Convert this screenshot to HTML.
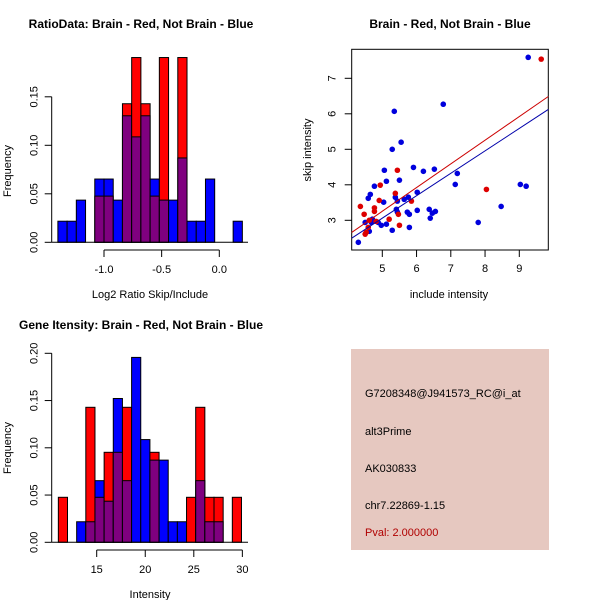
<!DOCTYPE html>
<html><head><meta charset="utf-8"><style>
body{margin:0;background:#fff}
svg{display:block;font-family:"Liberation Sans",sans-serif}
</style></head><body>
<svg id="c" width="600" height="600" xmlns="http://www.w3.org/2000/svg">
<rect width="600" height="600" fill="#fff"/>
<g id="tl"></g>
<g id="tr"></g>
<g id="bl"></g>
<g id="br">
<rect x="351" y="349" width="198" height="201" fill="#e6c8c0"/>
<text x="365" y="397" font-size="11">G7208348@J941573_RC@i_at</text>
<text x="365" y="435" font-size="11">alt3Prime</text>
<text x="365" y="472" font-size="11">AK030833</text>
<text x="365" y="509" font-size="11">chr7.22869-1.15</text>
<text x="365" y="536" font-size="11" fill="#b00000">Pval: 2.000000</text>
</g>
</svg>
<script>
// ---- data ----
const ratioBinStart = -1.4;
const ratioBinWidth = 0.08;
const ratioBlueCounts = [1,1,2,0,3,3,2,6,5,6,3,2,2,4,1,1,3,0,0,1];
const ratioRedCounts  = [0,0,0,0,1,1,0,3,4,3,1,4,0,4,0,0,0,0,0,0];
const ratioXTicks = [-1.0,-0.5,0.0];
const ratioXTickLabels = ["-1.0","-0.5","0.0"];
const freqTicksTop = [0,0.05,0.10,0.15];
const freqTickLabelsTop = ["0.00","0.05","0.10","0.15"];

const intBinStart = 11.05;
const intBinWidth = 0.943;
const intBlueCounts = [0,0,1,1,3,2,7,3,9,5,4,4,1,1,0,3,1,1,0,0];
const intRedCounts  = [1,0,0,3,1,2,2,3,0,0,2,0,0,0,1,3,1,1,0,1];
const intXTicks = [15,20,25,30];
const freqTicksBot = [0,0.05,0.10,0.15,0.20];
const freqTickLabelsBot = ["0.00","0.05","0.10","0.15","0.20"];

const blueX = [4.30,4.50,4.59,4.65,4.77,5.04,5.06,5.12,5.29,5.35,5.55,5.50,5.38,5.44,5.41,5.44,5.29,5.12,4.97,4.88,4.68,4.62,4.71,5.64,5.76,5.73,5.79,5.79,5.91,6.02,6.02,6.20,6.52,6.78,6.37,6.40,6.46,6.55,7.13,7.19,7.80,8.47,9.03,9.20,9.26];
const blueY = [2.38,2.94,3.62,3.73,3.96,3.51,4.41,4.10,5.00,6.07,5.20,4.13,3.65,3.54,3.31,3.23,2.72,2.89,2.86,2.94,2.94,2.69,3.03,3.59,3.65,3.23,3.17,2.80,4.49,3.79,3.28,4.38,4.44,6.27,3.31,3.06,3.20,3.25,4.01,4.32,2.94,3.39,4.01,3.96,7.59];
const redX = [4.36,4.47,4.50,4.53,4.59,4.62,4.77,4.77,4.82,4.91,4.94,5.20,5.38,5.44,5.47,5.50,5.85,8.04,9.64];
const redY = [3.39,3.17,2.61,2.66,2.80,3.00,3.35,3.25,2.97,3.56,3.99,3.03,3.76,4.41,3.17,2.86,3.54,3.87,7.54];
const redFit = [-0.08,0.667];   // intercept, slope
const blueFit = [-0.10,0.632];
const scatXTicks = [5,6,7,8,9];
const scatYTicks = [3,4,5,6,7];

const NS="http://www.w3.org/2000/svg";
function mk(parent,tag,attrs){const e=document.createElementNS(NS,tag);for(const k in attrs)e.setAttribute(k,attrs[k]);parent.appendChild(e);return e;}

function histPanel(g,o){
  const xs=v=>o.x0px+(v-o.x0)*o.xk;
  const ys=v=>o.y0px-v*o.yk;
  const nb=o.blue.reduce((a,b)=>a+b,0), nr=o.red.reduce((a,b)=>a+b,0);
  for(let i=0;i<o.blue.length;i++){
    const l=xs(o.start+i*o.w), r=xs(o.start+(i+1)*o.w);
    const fb=o.blue[i]/nb, fr=o.red[i]/nr;
    const hi=Math.max(fb,fr), lo=Math.min(fb,fr);
    if(hi>0){
      const b=mk(g,'rect',{x:l,y:ys(hi),width:r-l,height:ys(0)-ys(hi),fill:fb>=fr?'#0000ff':'#ff0000',stroke:'#000','stroke-width':1});
      
      
    }
    if(lo>0){
      const p=mk(g,'rect',{x:l,y:ys(lo),width:r-l,height:ys(0)-ys(lo),fill:'#7f007f',stroke:'#000','stroke-width':1});
      
      
    }
  }
  mk(g,'line',{x1:o.axL,x2:o.axR,y1:ys(0),y2:ys(0),stroke:'#000'});
  const ya=mk(g,'g',{});
  
  
  mk(ya,'line',{x1:o.axL,x2:o.axL,y1:ys(o.yt[0]),y2:ys(o.yt[o.yt.length-1]),stroke:'#000'});
  o.yt.forEach((t,i)=>{
    mk(ya,'line',{x1:o.axL-7,x2:o.axL,y1:ys(t),y2:ys(t),stroke:'#000'});
    const tx=mk(ya,'text',{x:0,y:0,'font-size':11,'text-anchor':'middle',transform:`translate(${o.axL-14},${ys(t)}) rotate(-90)`});
    tx.textContent=o.ytl[i];
    
    
  });
  const xa=mk(g,'g',{});
  
  
  const xt=o.xt;
  mk(xa,'line',{x1:xs(xt[0]),x2:xs(xt[xt.length-1]),y1:o.xAxY,y2:o.xAxY,stroke:'#000'});
  xt.forEach((t,i)=>{
    mk(xa,'line',{x1:xs(t),x2:xs(t),y1:o.xAxY,y2:o.xAxY+7,stroke:'#000'});
    const tx=mk(xa,'text',{x:xs(t),y:o.xAxY+23,'font-size':11,'text-anchor':'middle'});
    tx.textContent=o.xtl[i];
    
    
  });
  const yl=mk(g,'text',{x:0,y:0,'font-size':11,'text-anchor':'middle',transform:`translate(11,${o.ylY}) rotate(-90)`});
  yl.textContent='Frequency';
  
  
  const xl=mk(g,'text',{x:o.xlX,y:o.xlY,'font-size':11,'text-anchor':'middle'});
  xl.textContent=o.xlabel;
  
  
  const ti=mk(g,'text',{x:o.tX,y:o.tY,'font-size':12,'font-weight':'bold','text-anchor':'middle'});
  ti.textContent=o.title;
  
  
}

histPanel(document.getElementById('tl'),{x0:-1,x0px:104,xk:115.3,y0px:242.3,yk:970,start:ratioBinStart,w:ratioBinWidth,
  blue:ratioBlueCounts,red:ratioRedCounts,axL:51.7,axR:248,xAxY:250,xt:ratioXTicks,xtl:ratioXTickLabels,yt:freqTicksTop,ytl:freqTickLabelsTop,
  ylY:171,xlX:150,xlY:298,xlabel:'Log2 Ratio Skip/Include',tX:141,tY:28,title:'RatioData: Brain - Red, Not Brain - Blue'});
histPanel(document.getElementById('bl'),{x0:15,x0px:96.7,xk:9.71,y0px:542.3,yk:945,start:intBinStart,w:intBinWidth,
  blue:intBlueCounts,red:intRedCounts,axL:51.7,axR:248,xAxY:550,xt:intXTicks,xtl:intXTicks.map(String),yt:freqTicksBot,ytl:freqTickLabelsBot,
  ylY:448,xlX:150,xlY:598,xlabel:'Intensity',tX:141,tY:329,title:'Gene Itensity: Brain - Red, Not Brain - Blue'});

(function(){
  const g=document.getElementById('tr');
  const L=351.7,R=548.3,T=49.3,B=250;
  const xs=v=>382.3+(v-5)*34.25, ys=v=>220.3-(v-3)*35.5;
  const xmin=(L-382.3)/34.25+5, xmax=(R-382.3)/34.25+5;
  const box=mk(g,'rect',{x:L,y:T,width:R-L,height:B-T,fill:'none',stroke:'#000'});
  
  
  blueX.forEach((x,i)=>{
    const c=mk(g,'circle',{cx:xs(x),cy:ys(blueY[i]),r:2.8,fill:'#0000dd'});
    
    
  });
  redX.forEach((x,i)=>{
    const c=mk(g,'circle',{cx:xs(x),cy:ys(redY[i]),r:2.8,fill:'#dd0000'});
    
    
  });
  const rl=mk(g,'line',{x1:L,x2:R,y1:ys(redFit[0]+redFit[1]*xmin),y2:ys(redFit[0]+redFit[1]*xmax),stroke:'#cc0000'});
  
  
  const bl=mk(g,'line',{x1:L,x2:R,y1:ys(blueFit[0]+blueFit[1]*xmin),y2:ys(blueFit[0]+blueFit[1]*xmax),stroke:'#0000aa'});
  
  
  scatXTicks.forEach(t=>{
    mk(g,'line',{x1:xs(t),x2:xs(t),y1:B,y2:B+7,stroke:'#000'});
    const tx=mk(g,'text',{x:xs(t),y:B+22,'font-size':11,'text-anchor':'middle'});
    tx.textContent=String(t);
    
    
  });
  scatYTicks.forEach(t=>{
    mk(g,'line',{x1:L-7,x2:L,y1:ys(t),y2:ys(t),stroke:'#000'});
    const tx=mk(g,'text',{x:0,y:0,'font-size':11,'text-anchor':'middle',transform:`translate(${L-16},${ys(t)}) rotate(-90)`});
    tx.textContent=String(t);
    
    
  });
  const xl=mk(g,'text',{x:449,y:298,'font-size':11,'text-anchor':'middle'});
  xl.textContent='include intensity';
  
  
  const yl=mk(g,'text',{x:0,y:0,'font-size':11,'text-anchor':'middle',transform:'translate(311,150) rotate(-90)'});
  yl.textContent='skip intensity';
  
  
  const ti=mk(g,'text',{x:450,y:28,'font-size':12,'font-weight':'bold','text-anchor':'middle'});
  ti.textContent='Brain - Red, Not Brain - Blue';
  
  
})();
</script>
</body></html>
